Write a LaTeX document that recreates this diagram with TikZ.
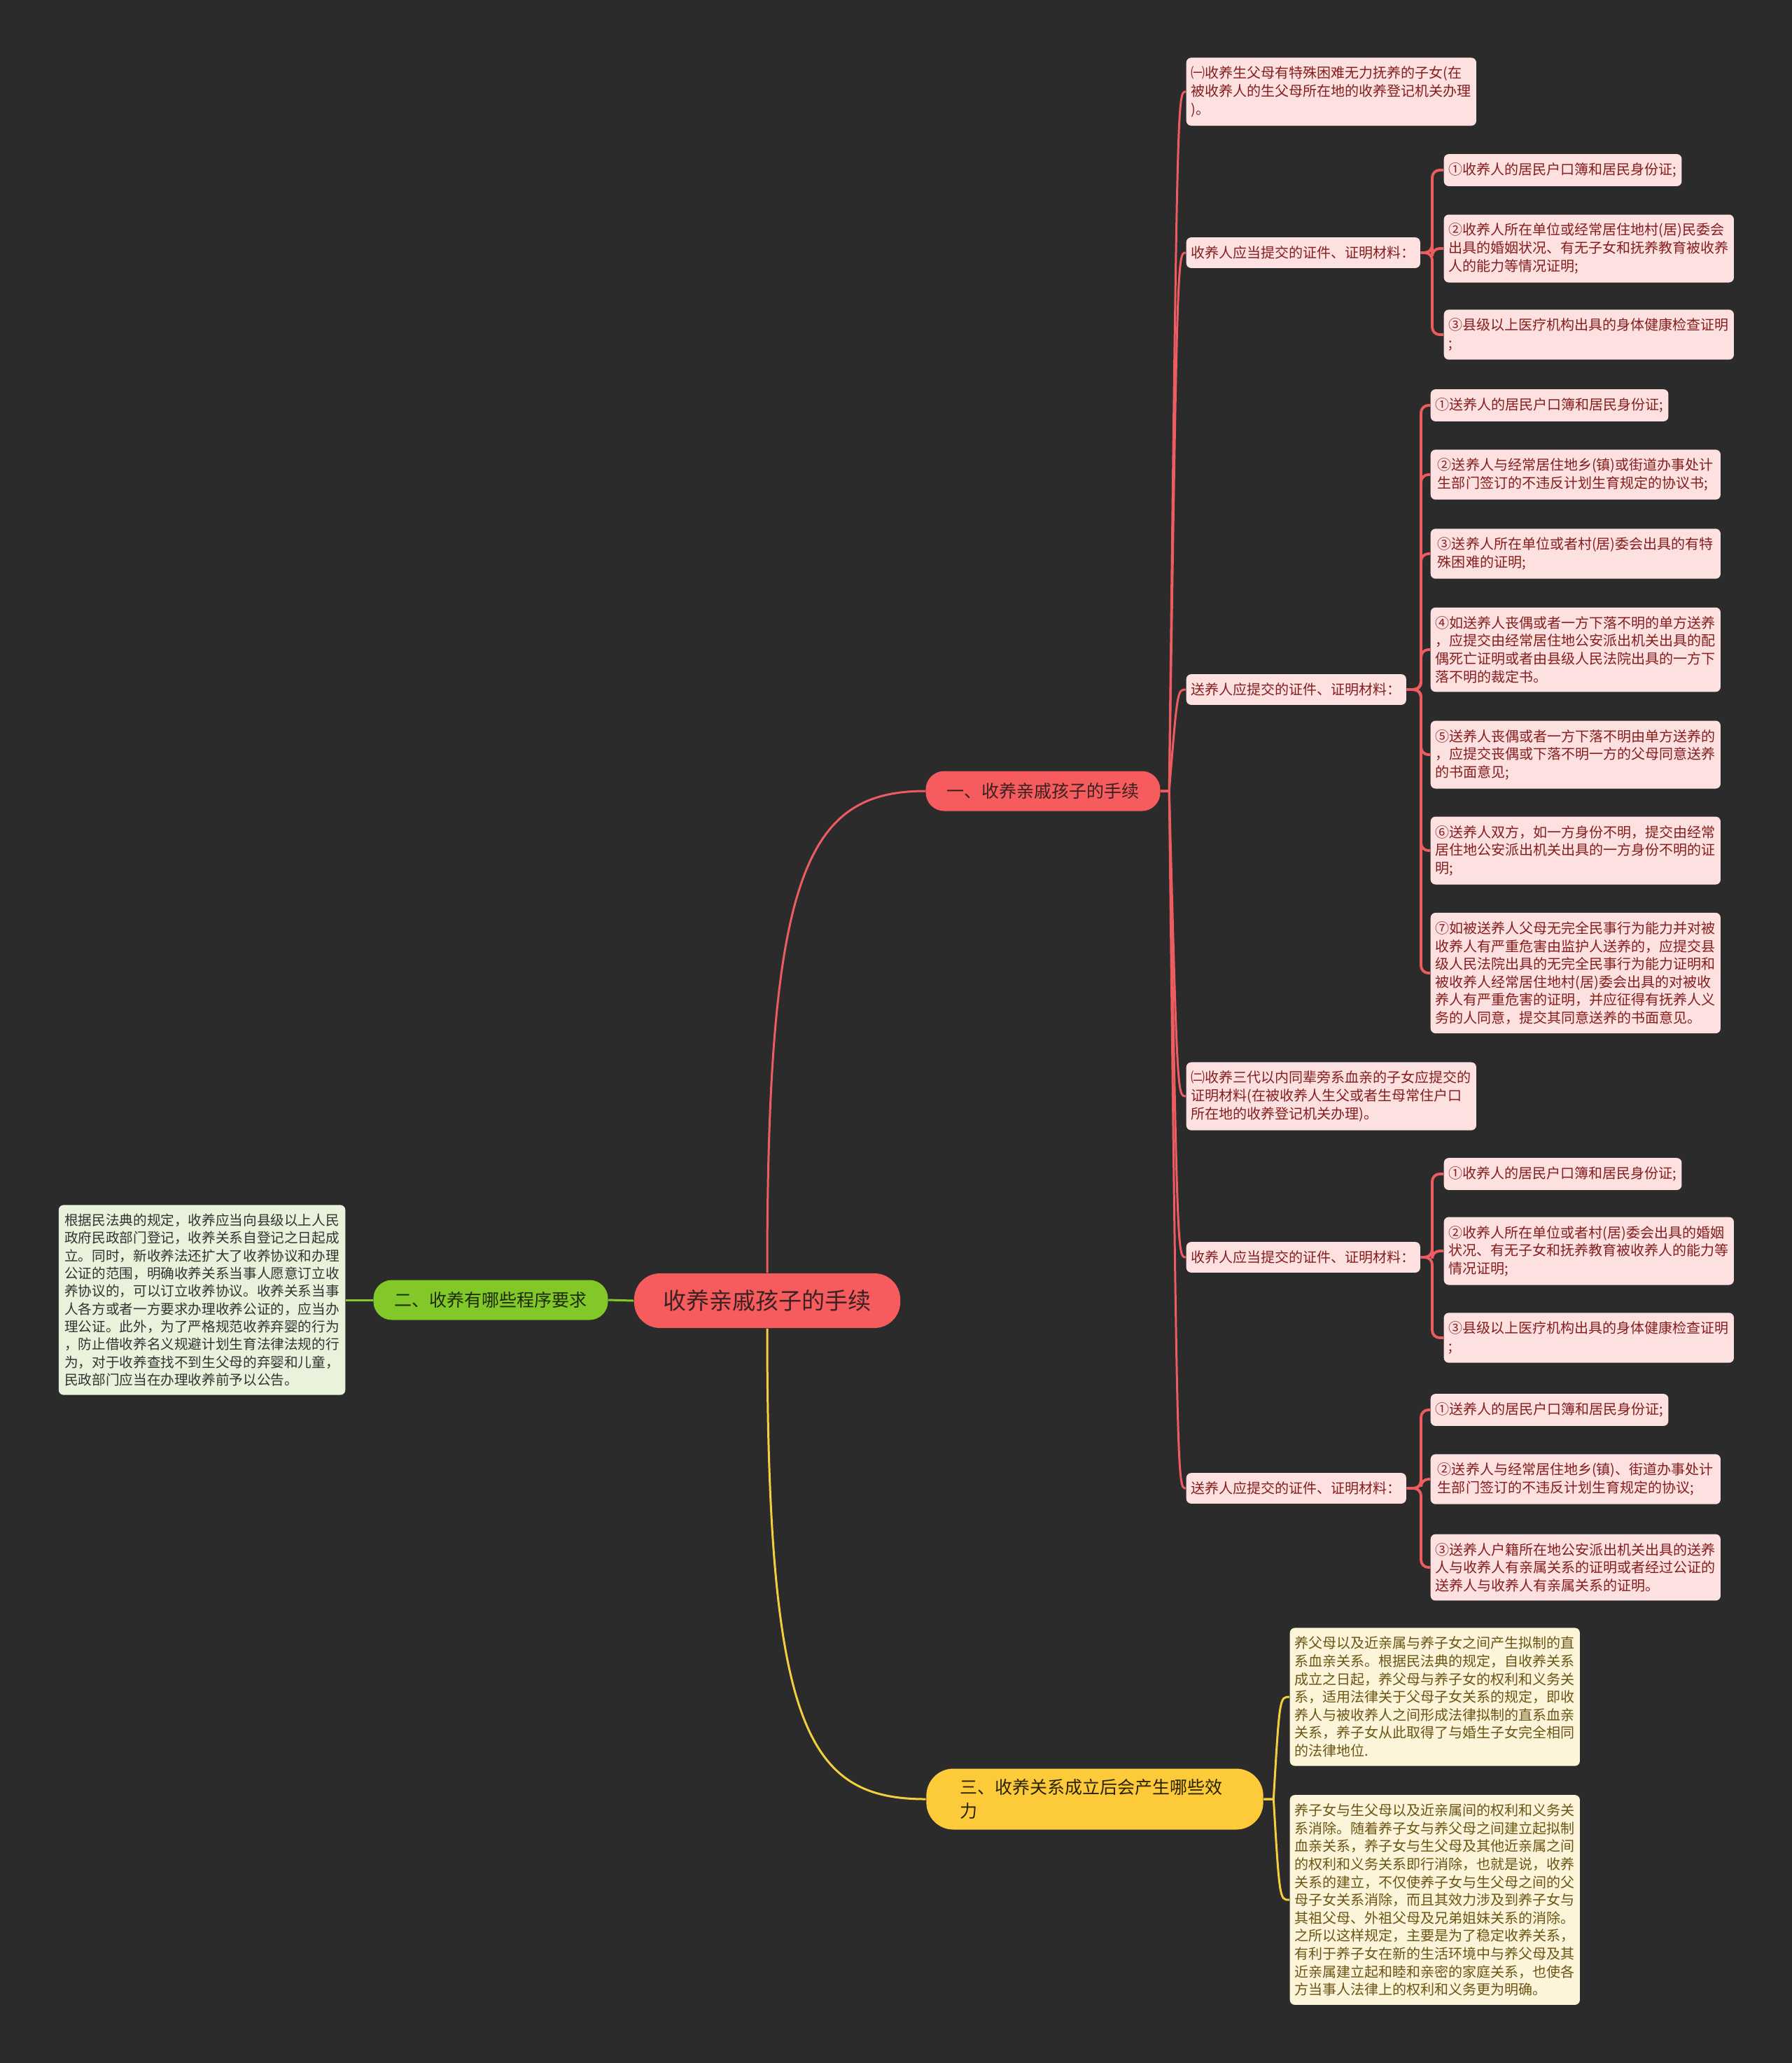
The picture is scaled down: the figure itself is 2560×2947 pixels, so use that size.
\documentclass[tikz,border=0pt]{standalone}
\usepackage{fontspec}
\setmainfont{Noto Sans CJK SC}
\usepackage{tikz}
\usetikzlibrary{calc}
\definecolor{bgdark}{HTML}{2B2B2B}
\definecolor{redfill}{HTML}{F65B5D}
\definecolor{redline}{HTML}{EC5C60}
\definecolor{roottext}{HTML}{3A2222}
\definecolor{pinkbox}{HTML}{FDE1E1}
\definecolor{pinktext}{HTML}{861D1D}
\definecolor{greenfill}{HTML}{82C828}
\definecolor{greentext}{HTML}{1E2B0A}
\definecolor{palegreen}{HTML}{E9F2DA}
\definecolor{greytext}{HTML}{333333}
\definecolor{yellowfill}{HTML}{FDCB3A}
\definecolor{yellowline}{HTML}{F3CE3F}
\definecolor{yellowtext}{HTML}{2A2200}
\definecolor{paleyellow}{HTML}{FDF5DA}
\definecolor{olivetext}{HTML}{6B5514}
\newcommand\leaffont{\fontsize{5.69pt}{7.28pt}\selectfont}
\newcommand\notefont{\fontsize{5.58pt}{7.2pt}\selectfont}
\newcommand\branchfont{\fontsize{7.11pt}{9.7pt}\selectfont}
\newcommand\rootfont{\fontsize{9.4pt}{11pt}\selectfont}

\begin{document}
\begin{tikzpicture}[x=0.01cm, y={(0cm,-0.01cm)},
  leaf/.style={fill=pinkbox, text=pinktext, rounded corners=2pt, align=left,
    inner xsep=0.07cm, inner ysep=0.125cm, font=\leaffont, anchor=west},
  wide/.style={leaf, minimum width=4.14cm},
  rootbox/.style={fill=redfill, text=roottext, rounded corners=10.5pt,
    minimum width=3.8cm, minimum height=0.78cm, inner sep=0pt, font=\rootfont},
  branch/.style={rounded corners=7.5pt, minimum height=0.57cm, inner xsep=0.3cm,
    inner ysep=0pt, font=\branchfont},
  redcurve/.style={draw=redline, line width=0.85pt},
  elbow/.style={draw=redline, line width=1.1pt, rounded corners=3pt},
  yellowcurve/.style={draw=yellowline, line width=0.85pt},
  greenline/.style={draw=greenfill, line width=0.85pt}]
  \fill[bgdark] (0,0) rectangle (2560,2947);

  \node[rootbox] (root) at (1096,1858) {收养亲戚孩子的手续};
  \node[branch, fill=redfill, text=roottext] (b1) at (1490,1130) {一、收养亲戚孩子的手续};
  \node[branch, fill=greenfill, text=greentext] (b2) at (701,1857) {二、收养有哪些程序要求};
  \node[branch, fill=yellowfill, text=yellowtext, rounded corners=11pt, minimum height=0.87cm,
    inner xsep=0.48cm, text width=3.85cm, align=left] (b3) at (1564,2570)
    {三、收养关系成立后会产生哪些效\\力};

  \node[fill=palegreen, text=greytext, rounded corners=2pt, align=left, inner xsep=0.085cm,
    inner ysep=0.125cm, font=\notefont, anchor=east] (note) at (494,1857)
    {根据民法典的规定，收养应当向县级以上人民\\政府民政部门登记，收养关系自登记之日起成\\立。同时，新收养法还扩大了收养协议和办理\\公证的范围，明确收养关系当事人愿意订立收\\养协议的，可以订立收养协议。收养关系当事\\人各方或者一方要求办理收养公证的，应当办\\理公证。此外，为了严格规范收养弃婴的行为\\，防止借收养名义规避计划生育法律法规的行\\为，对于收养查找不到生父母的弃婴和儿童，\\民政部门应当在办理收养前予以公告。};

  \node[wide] (A1) at (1694,131) {㈠收养生父母有特殊困难无力抚养的子女(在\\被收养人的生父母所在地的收养登记机关办理\\)。};
  \node[leaf] (A2) at (1694,361) {收养人应当提交的证件、证明材料：};
  \node[leaf] (c1) at (2062,243) {①收养人的居民户口簿和居民身份证;};
  \node[wide] (c2) at (2062,355) {②收养人所在单位或经常居住地村(居)民委会\\出具的婚姻状况、有无子女和抚养教育被收养\\人的能力等情况证明;};
  \node[wide] (c3) at (2062,478) {③县级以上医疗机构出具的身体健康检查证明\\;};

  \node[leaf] (A3) at (1694,985) {送养人应提交的证件、证明材料：};
  \node[leaf] (d1) at (2043,579) {①送养人的居民户口簿和居民身份证;};
  \node[wide] (d2) at (2043,678) {②送养人与经常居住地乡(镇)或街道办事处计\\生部门签订的不违反计划生育规定的协议书;};
  \node[wide] (d3) at (2043,791) {③送养人所在单位或者村(居)委会出具的有特\\殊困难的证明;};
  \node[wide] (d4) at (2043,928) {④如送养人丧偶或者一方下落不明的单方送养\\，应提交由经常居住地公安派出机关出具的配\\偶死亡证明或者由县级人民法院出具的一方下\\落不明的裁定书。};
  \node[wide] (d5) at (2043,1078) {⑤送养人丧偶或者一方下落不明由单方送养的\\，应提交丧偶或下落不明一方的父母同意送养\\的书面意见;};
  \node[wide] (d6) at (2043,1215) {⑥送养人双方，如一方身份不明，提交由经常\\居住地公安派出机关出具的一方身份不明的证\\明;};
  \node[wide] (d7) at (2043,1390) {⑦如被送养人父母无完全民事行为能力并对被\\收养人有严重危害由监护人送养的，应提交县\\级人民法院出具的无完全民事行为能力证明和\\被收养人经常居住地村(居)委会出具的对被收\\养人有严重危害的证明，并应征得有抚养人义\\务的人同意，提交其同意送养的书面意见。};

  \node[wide] (A4) at (1694,1566) {㈡收养三代以内同辈旁系血亲的子女应提交的\\证明材料(在被收养人生父或者生母常住户口\\所在地的收养登记机关办理)。};
  \node[leaf] (A5) at (1694,1796) {收养人应当提交的证件、证明材料：};
  \node[leaf] (e1) at (2062,1677) {①收养人的居民户口簿和居民身份证;};
  \node[wide] (e2) at (2062,1787) {②收养人所在单位或者村(居)委会出具的婚姻\\状况、有无子女和抚养教育被收养人的能力等\\情况证明;};
  \node[wide] (e3) at (2062,1911) {③县级以上医疗机构出具的身体健康检查证明\\;};

  \node[leaf] (A6) at (1694,2126) {送养人应提交的证件、证明材料：};
  \node[leaf] (f1) at (2043,2014) {①送养人的居民户口簿和居民身份证;};
  \node[wide] (f2) at (2043,2113) {②送养人与经常居住地乡(镇)、街道办事处计\\生部门签订的不违反计划生育规定的协议;};
  \node[wide] (f3) at (2043,2239) {③送养人户籍所在地公安派出机关出具的送养\\人与收养人有亲属关系的证明或者经过公证的\\送养人与收养人有亲属关系的证明。};

  \node[wide, fill=paleyellow, text=olivetext, minimum width=4.12cm] (g1) at (1842,2424) {养父母以及近亲属与养子女之间产生拟制的直\\系血亲关系。根据民法典的规定，自收养关系\\成立之日起，养父母与养子女的权利和义务关\\系，适用法律关于父母子女关系的规定，即收\\养人与被收养人之间形成法律拟制的直系血亲\\关系，养子女从此取得了与婚生子女完全相同\\的法律地位.};
  \node[wide, fill=paleyellow, text=olivetext, minimum width=4.12cm] (g2) at (1842,2714) {养子女与生父母以及近亲属间的权利和义务关\\系消除。随着养子女与养父母之间建立起拟制\\血亲关系，养子女与生父母及其他近亲属之间\\的权利和义务关系即行消除，也就是说，收养\\关系的建立，不仅使养子女与生父母之间的父\\母子女关系消除，而且其效力涉及到养子女与\\其祖父母、外祖父母及兄弟姐妹关系的消除。\\之所以这样规定，主要是为了稳定收养关系，\\有利于养子女在新的生活环境中与养父母及其\\近亲属建立起和睦和亲密的家庭关系，也使各\\方当事人法律上的权利和义务更为明确。};

  \draw[redcurve] (root.north) .. controls +(0,-570) and +(-170,0) .. (b1.west);
  \draw[yellowcurve] (root.south) .. controls +(0,570) and +(-170,0) .. (b3.west);
  \draw[greenline] (root.west) -- (b2.east);
  \draw[greenline] (b2.west) -- (note.east);

  \foreach \n in {A1,A2,A3,A4,A5,A6}
    \draw[redcurve] (b1.east) -- ++(12,0) .. controls ($(\n.west)+(-12,0)$) .. (\n.west);
  \foreach \n in {c1,c2,c3}
    \draw[elbow] (A2.east) -| ($(\n.west)+(-16,0)$) -- (\n.west);
  \foreach \n in {d1,d2,d3,d4,d5,d6,d7}
    \draw[elbow] (A3.east) -| ($(\n.west)+(-13,0)$) -- (\n.west);
  \foreach \n in {e1,e2,e3}
    \draw[elbow] (A5.east) -| ($(\n.west)+(-16,0)$) -- (\n.west);
  \foreach \n in {f1,f2,f3}
    \draw[elbow] (A6.east) -| ($(\n.west)+(-13,0)$) -- (\n.west);
  \foreach \n in {g1,g2}
    \draw[yellowcurve] (b3.east) -- ++(14,0) .. controls ($(\n.west)+(-14,0)$) .. (\n.west);
\end{tikzpicture}
\end{document}
